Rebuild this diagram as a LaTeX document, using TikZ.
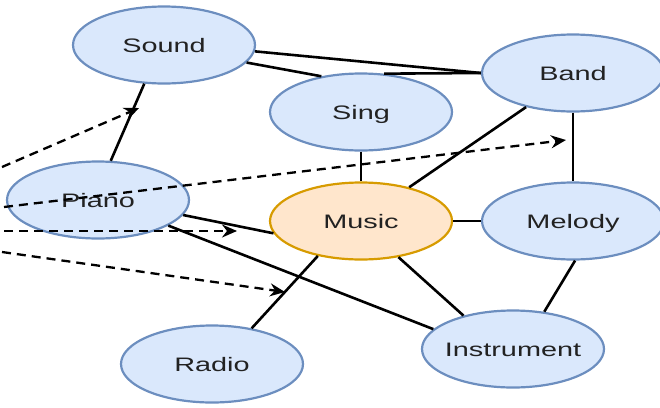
\documentclass[tikz,border=0pt]{standalone}
\usepackage{fontspec}
\setmainfont{Liberation Sans}[FakeStretch=1.48]
\usetikzlibrary{shapes.geometric,arrows.meta}
\definecolor{bfill}{HTML}{DAE8FC}
\definecolor{bdraw}{HTML}{6C8EBF}
\definecolor{ofill}{HTML}{FFE6CC}
\definecolor{odraw}{HTML}{D79B00}
\definecolor{txt}{HTML}{222222}
\tikzset{
  concept/.style={ellipse, draw=bdraw, fill=bfill, line width=2.2pt,
    minimum width=182pt, minimum height=77pt, inner sep=0pt},
  core/.style={concept, draw=odraw, fill=ofill},
  lbl/.style={text=txt, font=\fontsize{19.5}{22}\selectfont, inner sep=0pt,
    text height=14pt, text depth=0pt},
  link/.style={line width=2.6pt, black},
  flow/.style={line width=2.3pt, black, dash pattern=on 9pt off 6pt,
    -{Stealth[length=15pt,width=13pt,inset=5pt]}}
}
\begin{document}
\begin{tikzpicture}[x=1pt,y=-1pt]
\path[use as bounding box] (0,0) rectangle (660,407);
\node[concept, label={[lbl]center:Sound}] (sound) at (164,45) {};
\node[concept, label={[lbl]center:Sing}] (sing) at (361,112) {};
\node[concept, label={[lbl]center:Band}] (band) at (573,73) {};
\node[concept, label={[lbl]center:Piano}] (piano) at (98,200) {};
\node[core, label={[lbl]center:Music}] (music) at (361,221) {};
\node[concept, label={[lbl]center:Melody}] (melody) at (573,221) {};
\node[concept, label={[lbl]center:Instrument}] (instr) at (513,349) {};
\node[concept, label={[lbl]center:Radio}] (radio) at (212,364) {};

\draw[link] (sound.243) -- (piano.72);
\draw[link] (sound.356) -- (band.west);
\draw[link] (sound.348) -- (sing.138);
\draw[link] (sing.59) -- (band.west);
\draw[link] (sing.south) -- (music.north);
\draw[link] (music.35) -- (band.216);
\draw[link] (band.south) -- (melody.north);
\draw[link] (music.east) -- (melody.west);
\draw[link] (music.316) -- (instr.146);
\draw[link] (melody.273) -- (instr.50);
\draw[link] (piano.350) -- (music.188);
\draw[link] (piano.340) -- (instr.166);
\draw[link] (music.219) -- (radio.42);

\coordinate (s1) at (2,167);
\coordinate (e1) at (139,108);
\coordinate (s2) at (4,207);
\coordinate (e2) at (566,140);
\coordinate (s3) at (4,231);
\coordinate (e3) at (237,231);
\coordinate (s4) at (2,252);
\coordinate (e4) at (285,292);
\draw[flow] (s1) -- (e1);
\draw[flow] (s2) -- (e2);
\draw[flow] (s3) -- (e3);
\draw[flow] (s4) -- (e4);
\end{tikzpicture}
\end{document}
